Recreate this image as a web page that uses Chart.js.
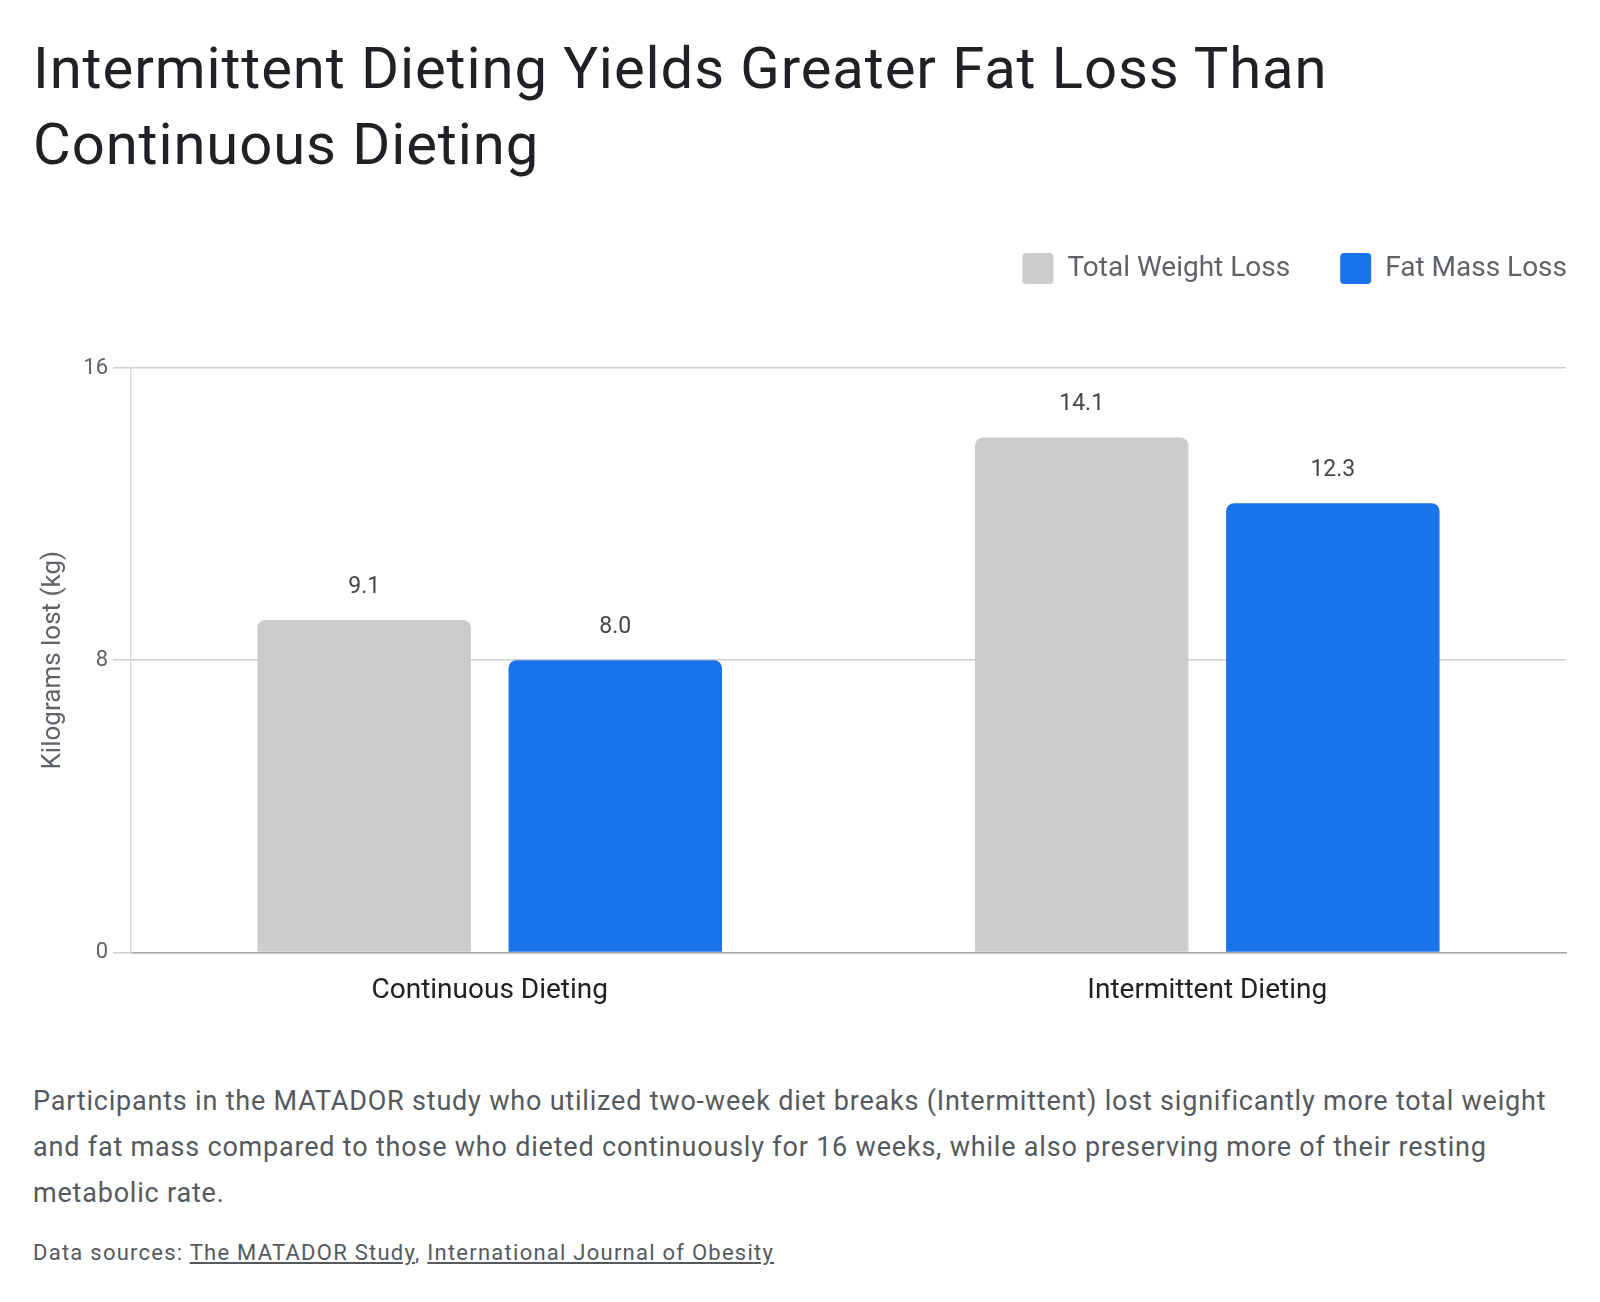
<!DOCTYPE html>
<html>
<head>
<meta charset="utf-8">
<script src="https://cdn.jsdelivr.net/npm/chart.js@4.4.1/dist/chart.umd.min.js"></script>
<style>
  body { margin: 0; background: #fff; font-family: Roboto, "Noto Sans", sans-serif; }
  #page { position: relative; width: 1600px; height: 1302px; }
  h1 { position: absolute; left: 33px; top: 30px; margin: 0; width: 1500px;
       font-weight: 400; font-size: 58px; line-height: 76px; color: #202124; letter-spacing: 0.9px; }
  #wrap { position: absolute; left: 33px; top: 215px; width: 1534px; height: 807px; }
  #caption { position: absolute; left: 33px; top: 1078px; margin: 0; white-space: nowrap;
             font-size: 27px; line-height: 46px; color: #55595e; letter-spacing: 0.8px; }
  #sources { position: absolute; left: 33px; top: 1238px; margin: 0; white-space: nowrap;
             font-size: 22px; line-height: 30px; color: #55595e; letter-spacing: 1.25px; }
  #sources a { color: #55595e; }
</style>
</head>
<body>
<div id="page">
  <h1>Intermittent Dieting Yields Greater Fat Loss Than<br>Continuous Dieting</h1>
  <div id="wrap"><canvas id="myChart"></canvas></div>
  <p id="caption">Participants in the MATADOR study who utilized two-week diet breaks (Intermittent) lost significantly more total weight<br>and fat mass compared to those who dieted continuously for 16 weeks, while also preserving more of their resting<br>metabolic rate.</p>
  <p id="sources">Data sources: <a href="#">The MATADOR Study</a>, <a href="#">International Journal of Obesity</a></p>
</div>
<script>
// data
const groups = ['Continuous Dieting', 'Intermittent Dieting'];
const totalWeightLoss = [9.1, 14.1];
const fatMassLoss = [8.0, 12.3];
const yTicks = [0, 8, 16];

const legendPad = 50;

// value labels above bars
const barLabels = {
  id: 'barLabels',
  afterDatasetsDraw(chart) {
    const ctx = chart.ctx;
    ctx.save();
    ctx.font = '23px Roboto, sans-serif';
    ctx.fillStyle = '#444746';
    ctx.textAlign = 'center';
    ctx.textBaseline = 'middle';
    chart.data.datasets.forEach((ds, i) => {
      chart.getDatasetMeta(i).data.forEach((bar, j) => {
        ctx.fillText(ds.data[j].toFixed(1), bar.x, bar.y - 33);
      });
    });
    ctx.restore();
  }
};

// extra space below the legend, and push it flush right
const legendGap = {
  id: 'legendGap',
  beforeInit(chart) {
    const fit = chart.legend.fit;
    chart.legend.fit = function () {
      fit.bind(chart.legend)();
      this.height += 44;
    };
  },
  afterLayout(chart) {
    chart.legend.left += legendPad + 1;
    chart.legend.right += legendPad + 1;
    chart.legend.top -= 30;
    chart.legend.bottom -= 30;
  }
};

const data = {
  labels: groups,
  datasets: [{
    label: 'Total Weight Loss',
    data: totalWeightLoss,
    backgroundColor: '#cccccc',
    borderRadius: { topLeft: 8, topRight: 8 },
    borderSkipped: 'bottom',
    categoryPercentage: 0.70,
    barPercentage: 0.85
  }, {
    label: 'Fat Mass Loss',
    data: fatMassLoss,
    backgroundColor: '#1a73e8',
    borderRadius: { topLeft: 8, topRight: 8 },
    borderSkipped: 'bottom',
    categoryPercentage: 0.70,
    barPercentage: 0.85
  }]
};

const config = {
  type: 'bar',
  data: data,
  plugins: [barLabels, legendGap],
  options: {
    responsive: true,
    maintainAspectRatio: false,
    animation: false,
    layout: { padding: { top: 18, right: 1 } },
    plugins: {
      tooltip: { enabled: false },
      legend: {
        position: 'top',
        align: 'end',
        labels: {
          boxWidth: 31,
          boxHeight: 31,
          useBorderRadius: true,
          borderRadius: 4,
          padding: legendPad,
          color: '#5f6368',
          font: { family: 'Roboto', size: 28 }
        }
      }
    },
    scales: {
      x: {
        grid: { display: false },
        border: { display: true, color: '#a8a8a8', width: 1.5 },
        ticks: { color: '#202124', padding: 14, font: { family: 'Roboto', size: 28 } }
      },
      y: {
        min: 0,
        max: 16,
        afterBuildTicks(scale) { scale.ticks = yTicks.map(v => ({ value: v })); },
        afterFit(scale) { scale.width = 98; },
        grid: { color: '#cfcfcf', lineWidth: 1.5, tickLength: 18 },
        border: { display: true, color: '#dadada', width: 1.5 },
        ticks: { color: '#5f6368', padding: 5, font: { family: 'Roboto', size: 22 } },
        title: {
          display: true,
          text: 'Kilograms lost (kg)',
          color: '#5f6368',
          padding: { top: 5 },
          font: { family: 'Roboto', size: 26 }
        }
      }
    }
  }
};

const myChart = new Chart(document.getElementById('myChart'), config);
</script>
</body>
</html>
